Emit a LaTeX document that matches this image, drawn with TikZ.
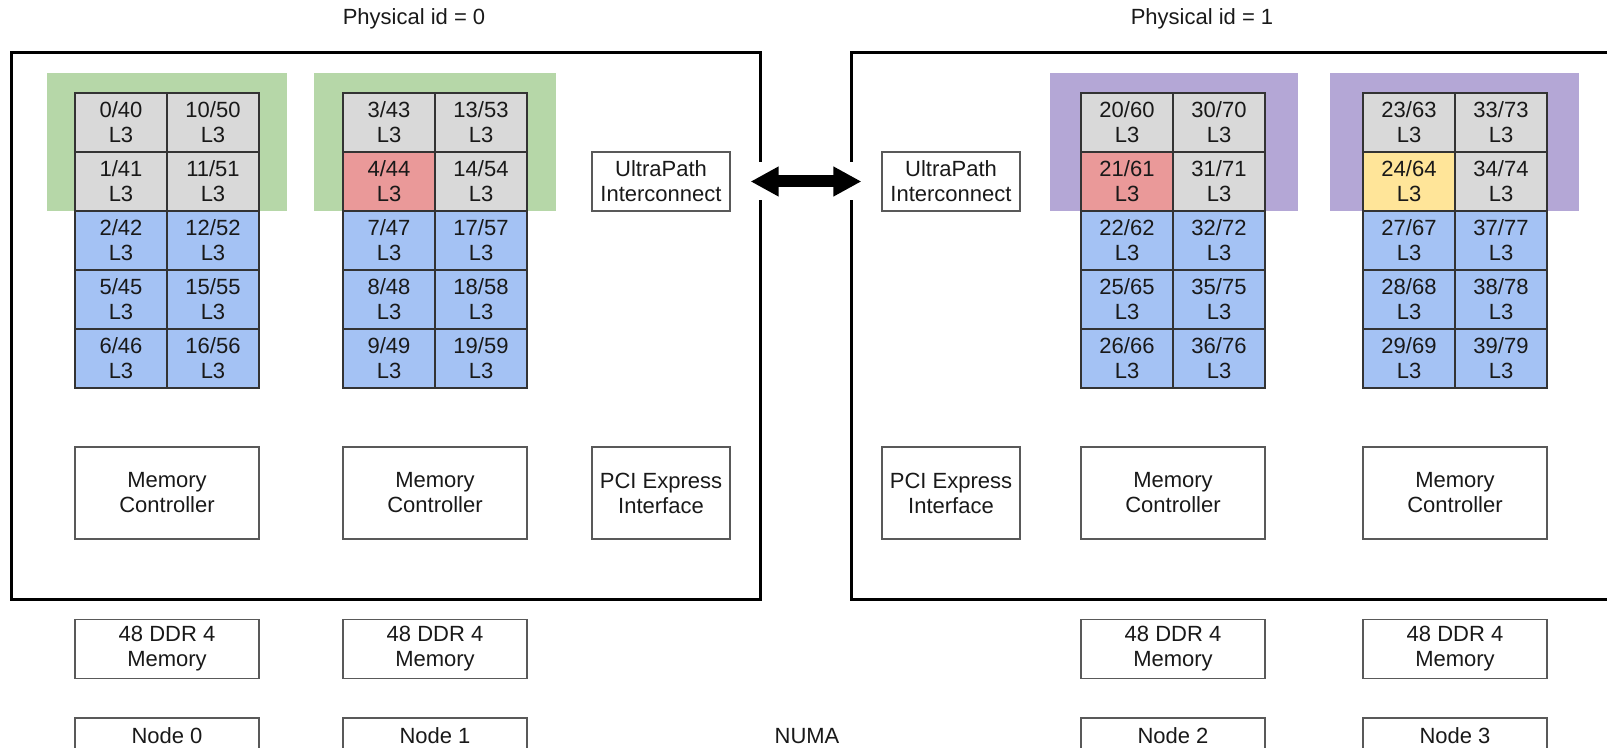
\documentclass[tikz,border=0pt]{standalone}
\usepackage{fontspec}
\setmainfont{Liberation Sans}
\usetikzlibrary{arrows.meta}

\definecolor{coregrey}{HTML}{D9D9D9}
\definecolor{coreblue}{HTML}{A4C2F4}
\definecolor{corered}{HTML}{EA9999}
\definecolor{coreyellow}{HTML}{FFE599}
\definecolor{llcgreen}{HTML}{B6D7A8}
\definecolor{llcpurple}{HTML}{B4A7D6}
\definecolor{boxline}{HTML}{595959}

\tikzset{
  core/.style={draw=black!80, line width=0.6pt, minimum width=46pt, minimum height=29.5pt, inner sep=0pt, align=center},
  unit/.style={draw=boxline, line width=0.6pt, inner sep=0pt, align=center},
  socket/.style={draw=black, line width=1.5pt},
}

\begin{document}
\begin{tikzpicture}[x=0.5pt, y=-0.5pt, font=\fontsize{11}{12.5}\selectfont, text=black!90]
        \useasboundingbox (0,0) rectangle (1607,748);
        \clip (0,0) rectangle (1607,748);

        % shared cache regions
        \fill[llcgreen] (47,73) rectangle (287,211);
        \fill[llcgreen] (314,73) rectangle (556,211);
        \fill[llcpurple] (1050,73) rectangle (1298,211);
        \fill[llcpurple] (1330,73) rectangle (1579,211);

        % the two packages
        \draw[socket] (11,53) rectangle (760,599);
        \draw[socket] (851,53) rectangle (1630,599);

        \node at (414,19) (phys0) {Physical id = 0};
        \node at (1202,19) (phys1) {Physical id = 1};

        % cores, two per row
        \foreach \a/\b/\clr [count=\i from 0] in {0/40/coregrey,10/50/coregrey,1/41/coregrey,11/51/coregrey,2/42/coreblue,12/52/coreblue,5/45/coreblue,15/55/coreblue,6/46/coreblue,16/56/coreblue}{
            \pgfmathsetmacro\cx{121+92*mod(\i,2)}
            \pgfmathsetmacro\cy{122.5+59*floor(\i/2)}
            \node[core, fill=\clr] at (\cx,\cy) (core\a) {\a/\b\\L3};
        }
        \foreach \a/\b/\clr [count=\i from 0] in {3/43/coregrey,13/53/coregrey,4/44/corered,14/54/coregrey,7/47/coreblue,17/57/coreblue,8/48/coreblue,18/58/coreblue,9/49/coreblue,19/59/coreblue}{
            \pgfmathsetmacro\cx{389+92*mod(\i,2)}
            \pgfmathsetmacro\cy{122.5+59*floor(\i/2)}
            \node[core, fill=\clr] at (\cx,\cy) (core\a) {\a/\b\\L3};
        }
        \foreach \a/\b/\clr [count=\i from 0] in {20/60/coregrey,30/70/coregrey,21/61/corered,31/71/coregrey,22/62/coreblue,32/72/coreblue,25/65/coreblue,35/75/coreblue,26/66/coreblue,36/76/coreblue}{
            \pgfmathsetmacro\cx{1127+92*mod(\i,2)}
            \pgfmathsetmacro\cy{122.5+59*floor(\i/2)}
            \node[core, fill=\clr] at (\cx,\cy) (core\a) {\a/\b\\L3};
        }
        \foreach \a/\b/\clr [count=\i from 0] in {23/63/coregrey,33/73/coregrey,24/64/coreyellow,34/74/coregrey,27/67/coreblue,37/77/coreblue,28/68/coreblue,38/78/coreblue,29/69/coreblue,39/79/coreblue}{
            \pgfmathsetmacro\cx{1409+92*mod(\i,2)}
            \pgfmathsetmacro\cy{122.5+59*floor(\i/2)}
            \node[core, fill=\clr] at (\cx,\cy) (core\a) {\a/\b\\L3};
        }

        % uncore blocks
        \node[unit, minimum width=69pt, minimum height=29.5pt] at (661,181.5) (upi0) {UltraPath\\Interconnect};
        \node[unit, minimum width=69pt, minimum height=29.5pt] at (951,181.5) (upi1) {UltraPath\\Interconnect};

        \node[unit, minimum width=92pt, minimum height=46pt] at (167,493) (mc0) {Memory\\Controller};
        \node[unit, minimum width=92pt, minimum height=46pt] at (435,493) (mc1) {Memory\\Controller};
        \node[unit, minimum width=92pt, minimum height=46pt] at (1173,493) (mc2) {Memory\\Controller};
        \node[unit, minimum width=92pt, minimum height=46pt] at (1455,493) (mc3) {Memory\\Controller};
        \node[unit, minimum width=69pt, minimum height=46pt] at (661,493) (pci0) {PCI Express\\Interface};
        \node[unit, minimum width=69pt, minimum height=46pt] at (951,493) (pci1) {PCI Express\\Interface};

        % memory and node labels under the packages
        \node[unit, minimum width=92pt, minimum height=29.5pt] at (167,649) (ddr0) {48 DDR 4\\Memory};
        \node[unit, minimum width=92pt, minimum height=29.5pt] at (435,649) (ddr1) {48 DDR 4\\Memory};
        \node[unit, minimum width=92pt, minimum height=29.5pt] at (1173,649) (ddr2) {48 DDR 4\\Memory};
        \node[unit, minimum width=92pt, minimum height=29.5pt] at (1455,649) (ddr3) {48 DDR 4\\Memory};

        \node[unit, minimum width=92pt, minimum height=18pt] at (167,736) (node0) {Node 0};
        \node[unit, minimum width=92pt, minimum height=18pt] at (435,736) (node1) {Node 1};
        \node[unit, minimum width=92pt, minimum height=18pt] at (1173,736) (node2) {Node 2};
        \node[unit, minimum width=92pt, minimum height=18pt] at (1455,736) (node3) {Node 3};
        \node at (807,736) (numa) {NUMA};

        % link between the packages
        \draw[white, line width=19pt, shorten <=8pt, shorten >=8pt] (upi0) -- (upi1);
        \draw[line width=6pt, {Triangle[length=14pt,width=14pt]}-{Triangle[length=14pt,width=14pt]}, shorten <=10pt, shorten >=10pt] (upi0) -- (upi1);
\end{tikzpicture}
\end{document}
